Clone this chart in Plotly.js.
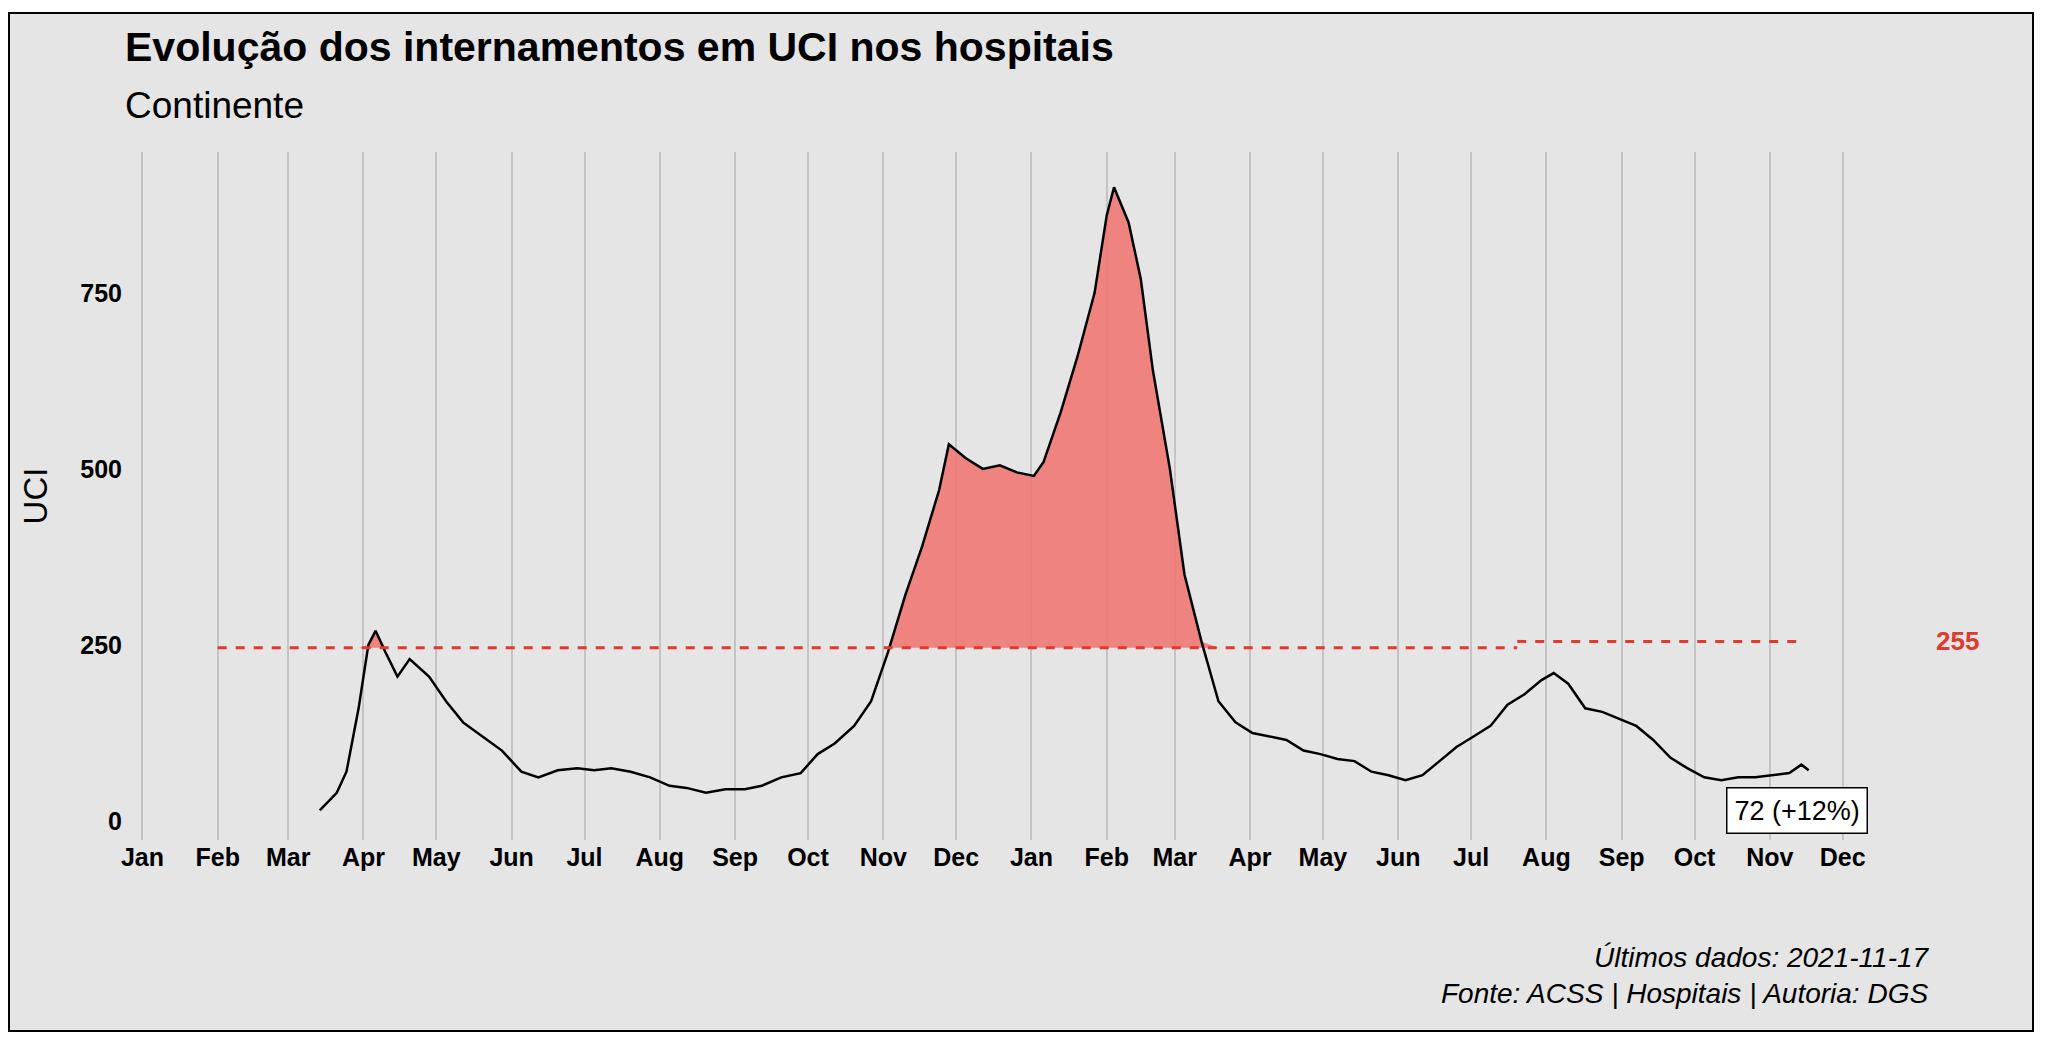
<!DOCTYPE html>
<html><head><meta charset="utf-8">
<script src="https://cdn.plot.ly/plotly-3.0.1.min.js"></script>
<style>body{margin:0;background:#fff}#chart{position:absolute;left:8px;top:12px;width:2026px;height:1020px;border:2px solid #000;box-sizing:border-box}</style>
</head><body><div id="chart"></div>
<script>
// Weekly-ish readings of ICU occupancy (Continente)
var dates = ['2020-03-14','2020-03-21','2020-03-25','2020-03-30','2020-04-03','2020-04-06','2020-04-10','2020-04-15','2020-04-20','2020-04-28',
 '2020-05-05','2020-05-12','2020-05-20','2020-05-28','2020-06-05','2020-06-12','2020-06-20','2020-06-28','2020-07-05','2020-07-12',
 '2020-07-20','2020-07-28','2020-08-05','2020-08-12','2020-08-20','2020-08-28','2020-09-05','2020-09-12','2020-09-20','2020-09-28',
 '2020-10-05','2020-10-12','2020-10-20','2020-10-27','2020-11-03','2020-11-10','2020-11-17','2020-11-24','2020-11-28','2020-12-05',
 '2020-12-12','2020-12-19','2020-12-26','2021-01-02','2021-01-06','2021-01-13','2021-01-20','2021-01-27','2021-02-01','2021-02-04',
 '2021-02-10','2021-02-15','2021-02-20','2021-02-27','2021-03-05','2021-03-12','2021-03-19','2021-03-26','2021-04-02','2021-04-09',
 '2021-04-16','2021-04-23','2021-04-30','2021-05-07','2021-05-14','2021-05-21','2021-05-28','2021-06-04','2021-06-11','2021-06-18',
 '2021-06-25','2021-07-02','2021-07-09','2021-07-16','2021-07-23','2021-07-30','2021-08-04','2021-08-10','2021-08-17','2021-08-24',
 '2021-08-31','2021-09-07','2021-09-14','2021-09-21','2021-09-28','2021-10-05','2021-10-12','2021-10-19','2021-10-26','2021-11-02',
 '2021-11-09','2021-11-14','2021-11-17'];
var uci = [15,40,70,160,250,270,240,205,230,205,
 170,140,120,100,70,62,72,75,72,75,
 70,62,50,47,40,45,45,50,62,68,
 95,110,135,170,240,320,390,470,535,515,
 500,505,495,490,510,580,660,750,860,900,
 850,770,640,500,350,255,170,140,125,120,
 115,100,95,88,85,70,65,58,65,85,
 105,120,135,165,180,200,210,195,160,155,
 145,135,115,90,75,62,58,62,62,65,
 68,80,72];
var thrStart = ['2020-02-01','2021-07-20'];
var thrEnd = ['2021-07-20','2021-11-15'];
var thrValue = [246,255];
var lastLabel = '72 (+12%)';

function thrAt(d){ for (var i=0;i<thrStart.length;i++){ if (d>=thrStart[i] && d<thrEnd[i]) return thrValue[i]; } return thrValue[thrValue.length-1]; }
var base = dates.map(thrAt);
var upper = uci.map(function(v,i){ return Math.max(v, base[i]); });

var traces = [
 {x:dates,y:base,mode:'lines',line:{width:0},hoverinfo:'skip',showlegend:false},
 {x:dates,y:upper,mode:'lines',line:{width:0},fill:'tonexty',fillcolor:'rgba(240,120,115,0.9)',hoverinfo:'skip',showlegend:false},
 {x:dates,y:uci,mode:'lines',line:{color:'#000',width:2.5},showlegend:false}
];
for (var i=0;i<thrStart.length;i++){
 traces.push({x:[thrStart[i],thrEnd[i]],y:[thrValue[i],thrValue[i]],mode:'lines',line:{color:'#e03a2e',width:3,dash:'dash'},showlegend:false});
}

var f = 'Liberation Sans, Arial, sans-serif';
var layout = {
 width:2022,height:1016,
 paper_bgcolor:'#e5e5e5',plot_bgcolor:'#e5e5e5',
 margin:{l:113,r:148,t:138,b:190},
 font:{family:f,color:'#000'},
 xaxis:{type:'date',range:['2019-12-24','2021-12-18'],dtick:'M1',tick0:'2020-01-01',tickformat:'%b',
  showgrid:true,gridcolor:'#c4c4c4',gridwidth:2,zeroline:false,showline:false,ticks:'',
  tickfont:{size:25,family:f,weight:'bold'}},
 yaxis:{range:[-27,950],tickvals:[0,250,500,750],showgrid:false,zeroline:false,ticks:'',
  tickfont:{size:25,family:f,weight:'bold'},title:{text:'UCI',font:{size:33},standoff:22}},
 annotations:[
  {xref:'paper',yref:'paper',x:0.0,xanchor:'left',y:1.0,yanchor:'bottom',yshift:80,text:'<b>Evolução dos internamentos em UCI nos hospitais</b>',showarrow:false,font:{size:41}},
  {xref:'paper',yref:'paper',x:0.0,xanchor:'left',y:1.0,yanchor:'bottom',yshift:24,text:'Continente',showarrow:false,font:{size:37}},
  {xref:'x',yref:'y',x:'2021-11-12',y:15,text:lastLabel,showarrow:false,font:{size:27},bgcolor:'#fff',bordercolor:'#000',borderwidth:1.5,borderpad:7},
  {xref:'paper',yref:'y',x:1.055,y:thrValue[1],text:'<b>'+thrValue[1]+'</b>',showarrow:false,font:{size:26,color:'#e03a2e'}},
  {xref:'paper',yref:'paper',x:1.027,xanchor:'right',y:0,yanchor:'top',yshift:-100,text:'<i>Últimos dados: 2021-11-17</i><br><i>Fonte: ACSS | Hospitais | Autoria: DGS</i>',align:'right',showarrow:false,font:{size:28}}
 ]
};
Plotly.newPlot('chart',traces,layout,{displayModeBar:false});
</script></body></html>
